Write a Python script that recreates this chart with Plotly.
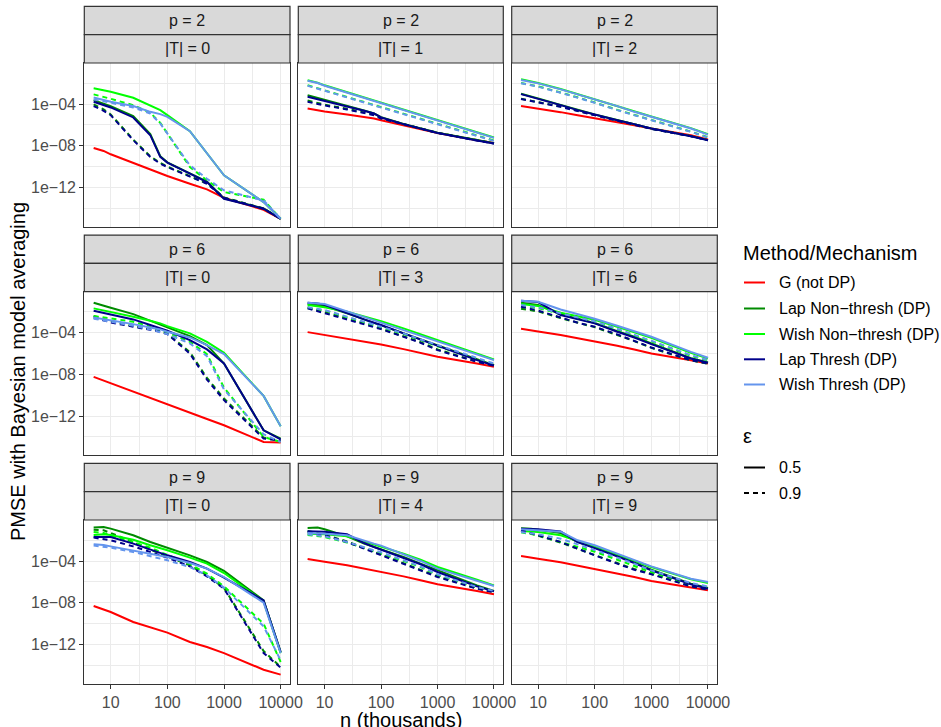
import plotly.graph_objects as go

# ---------------- data ----------------
n_thousands = [5, 7.5, 10, 25, 50, 75, 100, 250, 500, 1000, 5000, 10000]

methods = ["G (not DP)", "Lap Non\u2212thresh (DP)", "Wish Non\u2212thresh (DP)",
           "Lap Thresh (DP)", "Wish Thresh (DP)"]
method_keys = ["G", "LNT", "WNT", "LT", "WT"]
method_colors = ["#FF0000", "#008B00", "#00FF00", "#00008B", "#6495ED"]
epsilons = ["0.5", "0.9"]
eps_dash = {"0.5": "solid", "0.9": "5px,4px"}

panel_p = [2, 2, 2, 6, 6, 6, 9, 9, 9]
panel_T = [0, 1, 2, 0, 3, 6, 0, 4, 9]

y_tick_vals = [1e-4, 1e-8, 1e-12]
y_tick_text = ["1e\u221204", "1e\u221208", "1e\u221212"]
x_tick_vals = [10, 100, 1000, 10000]
x_tick_text = ["10", "100", "1000", "10000"]

# log10(PMSE), per panel and series (G is the same for both epsilons)
log10_pmse_p2_T0 = {
    "G":      [-8.20, -8.49, -8.81, -9.64, -10.25, -10.57, -10.89, -11.63, -12.17, -12.97, -14.13, -14.99],
    "LNT_0.5": [-3.62, -3.94, -4.19, -5.15, -6.88, -9.00, -9.58, -10.63, -11.43, -13.04, -14.00, -14.99],
    "LNT_0.9": [-4.03, -4.51, -4.99, -7.40, -9.00, -9.64, -9.99, -10.89, -11.60, -12.94, -14.00, -14.99],
    "WNT_0.5": [-2.49, -2.65, -2.81, -3.39, -4.10, -4.58, -5.06, -6.60, -8.71, -10.83, -13.39, -14.99],
    "WNT_0.9": [-3.07, -3.29, -3.49, -4.10, -4.83, -5.79, -6.82, -10.03, -11.31, -12.43, -13.17, -14.99],
    "LT_0.5":  [-3.78, -4.10, -4.32, -5.28, -6.98, -9.06, -9.61, -10.67, -11.47, -13.07, -14.03, -14.99],
    "LT_0.9":  [-4.19, -4.64, -5.06, -7.46, -9.06, -9.71, -10.03, -10.92, -11.63, -12.97, -14.03, -14.99],
    "WT_0.5":  [-3.36, -3.62, -3.78, -4.19, -4.74, -4.96, -5.22, -6.60, -8.71, -10.83, -13.39, -14.99],
    "WT_0.9":  [-3.55, -3.71, -3.87, -4.32, -4.90, -5.86, -6.82, -9.87, -11.15, -12.27, -13.23, -14.99],
}
log10_pmse_p2_T1 = {
    "G":      [-4.42, -4.58, -4.71, -4.99, -5.22, -5.38, -5.54, -6.02, -6.34, -6.76, -7.46, -7.72],
    "LNT_0.5": [-3.15, -3.40, -3.60, -4.10, -4.60, -4.90, -5.25, -5.90, -6.30, -6.75, -7.45, -7.75],
    "LNT_0.9": [-3.65, -3.90, -4.05, -4.45, -4.80, -5.00, -5.35, -5.90, -6.30, -6.75, -7.45, -7.75],
    "WNT_0.5": [-1.72, -1.95, -2.20, -2.87, -3.38, -3.67, -3.86, -4.54, -5.05, -5.53, -6.68, -7.20],
    "WNT_0.9": [-2.20, -2.45, -2.68, -3.32, -3.80, -4.09, -4.28, -4.92, -5.40, -5.88, -7.00, -7.49],
    "LT_0.5":  [-3.29, -3.52, -3.71, -4.19, -4.64, -4.90, -5.28, -5.92, -6.34, -6.76, -7.49, -7.78],
    "LT_0.9":  [-3.78, -4.00, -4.13, -4.51, -4.83, -5.06, -5.38, -5.92, -6.34, -6.76, -7.49, -7.78],
    "WT_0.5":  [-1.76, -1.98, -2.24, -2.91, -3.42, -3.71, -3.90, -4.58, -5.09, -5.57, -6.72, -7.24],
    "WT_0.9":  [-2.24, -2.49, -2.72, -3.36, -3.84, -4.13, -4.32, -4.96, -5.44, -5.92, -7.04, -7.53],
}
log10_pmse_p2_T2 = {
    "G":      [-4.19, -4.32, -4.45, -4.77, -5.06, -5.22, -5.35, -5.70, -6.02, -6.34, -6.98, -7.40],
    "LNT_0.5": [-3.00, -3.25, -3.45, -4.07, -4.55, -4.80, -5.00, -5.52, -5.90, -6.33, -7.07, -7.45],
    "LNT_0.9": [-3.48, -3.67, -3.80, -4.23, -4.64, -4.88, -5.07, -5.58, -5.94, -6.37, -7.07, -7.45],
    "WNT_0.5": [-1.62, -1.80, -1.97, -2.55, -3.03, -3.32, -3.51, -4.15, -4.70, -5.18, -6.30, -6.88],
    "WNT_0.9": [-1.98, -2.14, -2.30, -2.88, -3.36, -3.65, -3.84, -4.55, -5.03, -5.51, -6.63, -7.18],
    "LT_0.5":  [-3.04, -3.29, -3.49, -4.10, -4.58, -4.83, -5.03, -5.54, -5.92, -6.34, -7.08, -7.46],
    "LT_0.9":  [-3.52, -3.71, -3.84, -4.26, -4.67, -4.90, -5.09, -5.60, -5.95, -6.38, -7.08, -7.46],
    "WT_0.5":  [-1.69, -1.85, -2.01, -2.59, -3.07, -3.36, -3.55, -4.19, -4.74, -5.22, -6.34, -6.92],
    "WT_0.9":  [-2.01, -2.17, -2.33, -2.91, -3.39, -3.68, -3.87, -4.58, -5.06, -5.54, -6.66, -7.21],
}
log10_pmse_p6_T0 = {
    "G":      [-8.23, -8.58, -8.84, -9.64, -10.25, -10.63, -10.86, -11.66, -12.27, -12.88, -14.48, -14.54],
    "LNT_0.5": [-1.12, -1.37, -1.60, -2.21, -2.85, -3.26, -3.49, -4.32, -5.19, -6.95, -13.36, -14.16],
    "LNT_0.9": [-2.40, -2.65, -2.88, -3.36, -3.68, -3.84, -4.06, -5.86, -8.33, -10.31, -14.06, -14.42],
    "WNT_0.5": [-1.66, -1.85, -2.01, -2.46, -2.85, -3.10, -3.36, -4.06, -4.87, -5.92, -10.06, -12.97],
    "WNT_0.9": [-2.40, -2.53, -2.65, -2.94, -3.42, -3.74, -3.97, -4.87, -6.05, -9.26, -14.00, -14.48],
    "LT_0.5":  [-1.88, -2.08, -2.21, -2.72, -3.26, -3.58, -3.81, -4.71, -5.60, -6.95, -13.36, -14.22],
    "LT_0.9":  [-2.53, -2.78, -3.01, -3.42, -3.74, -3.90, -4.13, -6.00, -8.49, -10.47, -14.16, -14.32],
    "WT_0.5":  [-2.53, -2.68, -2.85, -3.17, -3.49, -3.68, -3.90, -4.45, -5.19, -6.05, -10.06, -12.97],
    "WT_0.9":  [-2.65, -2.81, -2.97, -3.33, -3.68, -3.94, -4.13, -5.03, -6.24, -9.45, -13.74, -14.48],
}
log10_pmse_p6_T3 = {
    "G":      [-3.94, -4.10, -4.22, -4.54, -4.83, -4.99, -5.12, -5.57, -5.92, -6.31, -6.95, -7.27],
    "LNT_0.5": [-1.24, -1.34, -1.44, -2.14, -2.72, -3.01, -3.23, -4.00, -4.58, -5.22, -6.56, -7.11],
    "LNT_0.9": [-1.56, -1.82, -2.04, -2.65, -3.10, -3.36, -3.62, -4.32, -4.90, -5.60, -6.76, -7.14],
    "WNT_0.5": [-1.34, -1.44, -1.56, -1.98, -2.40, -2.68, -2.88, -3.58, -4.13, -4.71, -5.99, -6.56],
    "WNT_0.9": [-1.66, -1.76, -1.85, -2.53, -3.01, -3.26, -3.49, -4.13, -4.71, -5.29, -6.53, -7.01],
    "LT_0.5":  [-1.12, -1.18, -1.31, -2.14, -2.72, -3.04, -3.26, -4.06, -4.64, -5.29, -6.63, -7.14],
    "LT_0.9":  [-1.66, -1.92, -2.14, -2.72, -3.17, -3.42, -3.65, -4.38, -4.96, -5.67, -6.79, -7.17],
    "WT_0.5":  [-1.12, -1.18, -1.24, -1.95, -2.49, -2.81, -3.04, -3.74, -4.29, -4.83, -6.08, -6.63],
    "WT_0.9":  [-1.56, -1.69, -1.82, -2.46, -2.94, -3.20, -3.42, -4.06, -4.64, -5.19, -6.47, -6.95],
}
log10_pmse_p6_T6 = {
    "G":      [-3.62, -3.74, -3.87, -4.22, -4.51, -4.71, -4.83, -5.25, -5.60, -5.99, -6.63, -6.95],
    "LNT_0.5": [-1.12, -1.21, -1.34, -2.24, -2.68, -2.91, -3.07, -3.84, -4.38, -5.03, -6.44, -6.85],
    "LNT_0.9": [-1.69, -1.82, -1.95, -2.59, -3.07, -3.29, -3.46, -4.19, -4.80, -5.45, -6.66, -6.98],
    "WNT_0.5": [-1.24, -1.34, -1.44, -2.08, -2.40, -2.59, -2.75, -3.42, -3.94, -4.48, -5.92, -6.47],
    "WNT_0.9": [-1.44, -1.53, -1.63, -2.21, -2.59, -2.78, -2.97, -3.68, -4.22, -4.83, -6.21, -6.66],
    "LT_0.5":  [-0.92, -0.96, -1.05, -2.30, -2.72, -2.94, -3.10, -3.90, -4.45, -5.09, -6.47, -6.88],
    "LT_0.9":  [-1.50, -1.72, -1.88, -2.53, -3.04, -3.26, -3.42, -4.16, -4.77, -5.41, -6.63, -6.95],
    "WT_0.5":  [-0.92, -0.96, -1.02, -1.76, -2.21, -2.46, -2.65, -3.33, -3.84, -4.38, -5.83, -6.40],
    "WT_0.9":  [-1.34, -1.44, -1.56, -2.14, -2.53, -2.72, -2.91, -3.62, -4.16, -4.77, -6.15, -6.63],
}
log10_pmse_p9_T0 = {
    "G":      [-8.31, -8.67, -8.89, -9.85, -10.33, -10.65, -10.87, -11.77, -12.25, -12.83, -14.43, -14.90],
    "LNT_0.5": [-0.79, -0.73, -0.89, -1.53, -2.17, -2.49, -2.78, -3.45, -4.09, -4.95, -7.77, -12.73],
    "LNT_0.9": [-0.99, -1.05, -1.31, -2.17, -2.91, -3.29, -3.55, -4.41, -5.37, -6.59, -12.63, -14.17],
    "WNT_0.5": [-1.50, -1.43, -1.50, -1.95, -2.49, -2.75, -2.97, -3.67, -4.25, -5.15, -7.87, -12.83],
    "WNT_0.9": [-1.21, -1.31, -1.53, -2.17, -2.71, -3.13, -3.42, -4.31, -5.21, -6.43, -10.01, -13.69],
    "LT_0.5":  [-1.69, -1.66, -1.69, -2.33, -2.91, -3.23, -3.45, -4.09, -4.73, -5.59, -7.77, -12.73],
    "LT_0.9":  [-1.75, -1.88, -2.01, -2.59, -3.13, -3.45, -3.67, -4.51, -5.47, -6.65, -12.83, -14.23],
    "WT_0.5":  [-2.39, -2.46, -2.59, -2.97, -3.29, -3.48, -3.61, -4.19, -4.73, -5.53, -7.99, -12.83],
    "WT_0.9":  [-2.52, -2.62, -2.71, -3.13, -3.51, -3.74, -3.93, -4.57, -5.37, -6.55, -10.27, -13.53],
}
log10_pmse_p9_T4 = {
    "G":      [-3.80, -3.93, -4.06, -4.41, -4.73, -4.89, -5.02, -5.47, -5.85, -6.23, -6.87, -7.19],
    "LNT_0.5": [-0.83, -0.79, -0.95, -1.63, -2.33, -2.65, -2.87, -3.61, -4.25, -4.89, -6.33, -6.87],
    "LNT_0.9": [-1.11, -1.31, -1.47, -2.11, -2.75, -3.13, -3.39, -4.19, -4.83, -5.47, -6.62, -6.97],
    "WNT_0.5": [-1.37, -1.40, -1.43, -1.63, -2.14, -2.39, -2.59, -3.29, -3.87, -4.57, -5.79, -6.33],
    "WNT_0.9": [-1.50, -1.59, -1.69, -2.23, -2.75, -3.03, -3.23, -3.99, -4.57, -5.34, -6.55, -6.94],
    "LT_0.5":  [-1.13, -1.16, -1.19, -1.43, -2.27, -2.65, -2.90, -3.67, -4.31, -5.05, -6.43, -6.91],
    "LT_0.9":  [-1.19, -1.37, -1.53, -2.17, -2.81, -3.19, -3.45, -4.25, -4.89, -5.53, -6.65, -7.00],
    "WT_0.5":  [-1.31, -1.34, -1.37, -1.53, -2.07, -2.33, -2.52, -3.35, -3.99, -4.73, -5.91, -6.39],
    "WT_0.9":  [-1.43, -1.53, -1.63, -2.17, -2.71, -2.97, -3.16, -3.93, -4.51, -5.27, -6.49, -6.87],
}
log10_pmse_p9_T9 = {
    "G":      [-3.51, -3.64, -3.77, -4.12, -4.44, -4.60, -4.73, -5.15, -5.53, -5.91, -6.55, -6.81],
    "LNT_0.5": [-0.86, -0.89, -0.99, -1.31, -2.17, -2.49, -2.71, -3.51, -4.12, -4.83, -6.17, -6.59],
    "LNT_0.9": [-1.11, -1.34, -1.56, -2.23, -2.84, -3.23, -3.42, -4.19, -4.76, -5.21, -6.39, -6.71],
    "WNT_0.5": [-1.11, -1.15, -1.21, -1.53, -2.11, -2.39, -2.59, -3.35, -3.93, -4.57, -5.75, -6.11],
    "WNT_0.9": [-1.24, -1.37, -1.53, -2.17, -2.65, -2.91, -3.10, -3.87, -4.44, -5.08, -6.23, -6.55],
    "LT_0.5":  [-0.89, -0.92, -0.95, -1.15, -2.17, -2.52, -2.75, -3.55, -4.19, -4.89, -6.23, -6.65],
    "LT_0.9":  [-1.05, -1.31, -1.53, -2.17, -2.81, -3.23, -3.45, -4.25, -4.83, -5.27, -6.43, -6.75],
    "WT_0.5":  [-0.95, -0.99, -1.05, -1.18, -2.01, -2.33, -2.49, -3.29, -3.87, -4.51, -5.69, -6.01],
    "WT_0.9":  [-1.21, -1.31, -1.43, -1.85, -2.39, -2.71, -2.91, -3.67, -4.25, -4.89, -6.11, -6.43],
}

panels = [log10_pmse_p2_T0, log10_pmse_p2_T1, log10_pmse_p2_T2,
          log10_pmse_p6_T0, log10_pmse_p6_T3, log10_pmse_p6_T6,
          log10_pmse_p9_T0, log10_pmse_p9_T4, log10_pmse_p9_T9]

# ---------------- layout geometry (pixels) ----------------
W, H = 941, 727
col_px = [(84.3, 290.0), (298.3, 503.3), (511.7, 717.3)]
row_px = [(63.0, 226.7), (291.7, 455.2), (520.0, 683.5)]
STRIP = 28.3
FONT = "Liberation Sans, Arial, Helvetica, sans-serif"


def fx(px):
    return px / W


def fy(py):
    return 1 - py / H


fig = go.Figure()
layout = dict(
    width=W, height=H, autosize=False,
    margin=dict(l=0, r=0, t=0, b=0, pad=0),
    paper_bgcolor="white", plot_bgcolor="white",
    font=dict(family=FONT, size=16, color="#4D4D4D"),
    showlegend=False,
)
shapes = []
annotations = []

x_minor = [10 ** 0.5, 10 ** 1.5, 10 ** 2.5, 10 ** 3.5]
y_minor = [1e-2, 1e-6, 1e-10, 1e-14]

for i, data in enumerate(panels):
    r, c = divmod(i, 3)
    sfx = "" if i == 0 else str(i + 1)
    xa, ya = "x" + sfx, "y" + sfx
    x0, x1 = col_px[c]
    top, bot = row_px[r]

    for mk, col in zip(method_keys, method_colors):
        for eps in epsilons:
            if mk == "G":
                if eps != "0.5":
                    continue
                vals = data["G"]
            else:
                vals = data[f"{mk}_{eps}"]
            fig.add_trace(go.Scatter(
                x=n_thousands, y=[10 ** v for v in vals],
                mode="lines", xaxis=xa, yaxis=ya,
                line=dict(color=col, width=2, dash=eps_dash[eps]),
                hoverinfo="skip", showlegend=False,
            ))

    common = dict(showline=True, mirror=True, linecolor="#333333", linewidth=1.2,
                  showgrid=True, gridcolor="#EBEBEB", gridwidth=1.2, zeroline=False,
                  tickcolor="#333333", tickwidth=1.1, ticklen=4, automargin=False,
                  tickfont=dict(family=FONT, size=16, color="#4D4D4D"))
    layout["xaxis" + sfx] = dict(
        common, type="log", range=[0.534, 4.165],
        domain=[fx(x0), fx(x1)], anchor=ya,
        tickmode="array", tickvals=x_tick_vals, ticktext=x_tick_text,
        showticklabels=(r == 2), ticks="outside" if r == 2 else "",
        minor=dict(tickmode="array", tickvals=x_minor, showgrid=True,
                   gridcolor="#EBEBEB", gridwidth=0.8, ticks=""),
    )
    layout["yaxis" + sfx] = dict(
        common, type="log", range=[-15.75, -0.06],
        domain=[fy(bot), fy(top)], anchor=xa,
        tickmode="array", tickvals=y_tick_vals, ticktext=y_tick_text,
        showticklabels=(c == 0), ticks="outside" if c == 0 else "",
        minor=dict(tickmode="array", tickvals=y_minor, showgrid=True,
                   gridcolor="#EBEBEB", gridwidth=0.8, ticks=""),
    )

    # facet strips
    strips = [(top - 2 * STRIP, top - STRIP, f"p = {panel_p[i]}"),
              (top - STRIP, top, f"|T| = {panel_T[i]}")]
    for (s0, s1, txt) in strips:
        shapes.append(dict(type="rect", xref="paper", yref="paper",
                           x0=fx(x0), x1=fx(x1), y0=fy(s1), y1=fy(s0),
                           fillcolor="#D9D9D9", line=dict(color="#333333", width=1.2),
                           layer="above"))
        annotations.append(dict(x=fx((x0 + x1) / 2), y=fy((s0 + s1) / 2),
                                xref="paper", yref="paper", text=txt, showarrow=False,
                                xanchor="center", yanchor="middle",
                                font=dict(family=FONT, size=16, color="#1A1A1A")))

# axis titles
annotations.append(dict(x=fx(400.7), y=fy(719.5), xref="paper", yref="paper",
                        text="n (thousands)", showarrow=False, xanchor="center",
                        yanchor="middle", font=dict(family=FONT, size=20, color="black")))
annotations.append(dict(x=fx(18), y=fy(372), xref="paper", yref="paper",
                        text="PMSE with Bayesian model averaging", showarrow=False,
                        textangle=-90, xanchor="center", yanchor="middle",
                        font=dict(family=FONT, size=20, color="black")))

# legend (drawn manually)
annotations.append(dict(x=fx(741), y=fy(253), xref="paper", yref="paper",
                        text="Method/Mechanism", showarrow=False, xanchor="left",
                        yanchor="middle", font=dict(family=FONT, size=20, color="black")))
leg_y = [282.5, 308.5, 334.0, 359.3, 384.5]
for name, col, ly in zip(methods, method_colors, leg_y):
    shapes.append(dict(type="line", xref="paper", yref="paper",
                       x0=fx(744), x1=fx(765), y0=fy(ly), y1=fy(ly),
                       line=dict(color=col, width=2)))
    annotations.append(dict(x=fx(777), y=fy(ly), xref="paper", yref="paper",
                            text=name, showarrow=False, xanchor="left", yanchor="middle",
                            font=dict(family=FONT, size=16, color="black")))

annotations.append(dict(x=fx(741), y=fy(436), xref="paper", yref="paper",
                        text="\u03b5", showarrow=False, xanchor="left",
                        yanchor="middle", font=dict(family=FONT, size=20, color="black")))
eps_leg_y = [467.5, 493.0]
for eps, ly in zip(epsilons, eps_leg_y):
    shapes.append(dict(type="line", xref="paper", yref="paper",
                       x0=fx(744), x1=fx(765), y0=fy(ly), y1=fy(ly),
                       line=dict(color="black", width=2, dash=eps_dash[eps])))
    annotations.append(dict(x=fx(777), y=fy(ly), xref="paper", yref="paper",
                            text=eps, showarrow=False, xanchor="left", yanchor="middle",
                            font=dict(family=FONT, size=16, color="black")))

layout["shapes"] = shapes
layout["annotations"] = annotations
fig.update_layout(**layout)
# remove the browser's default 8px page margin so the 941x727 figure fills the window exactly
fig.write_html("out.html", config={"displayModeBar": False},
               post_script="document.body.style.margin='0';document.body.style.overflow='hidden';")
